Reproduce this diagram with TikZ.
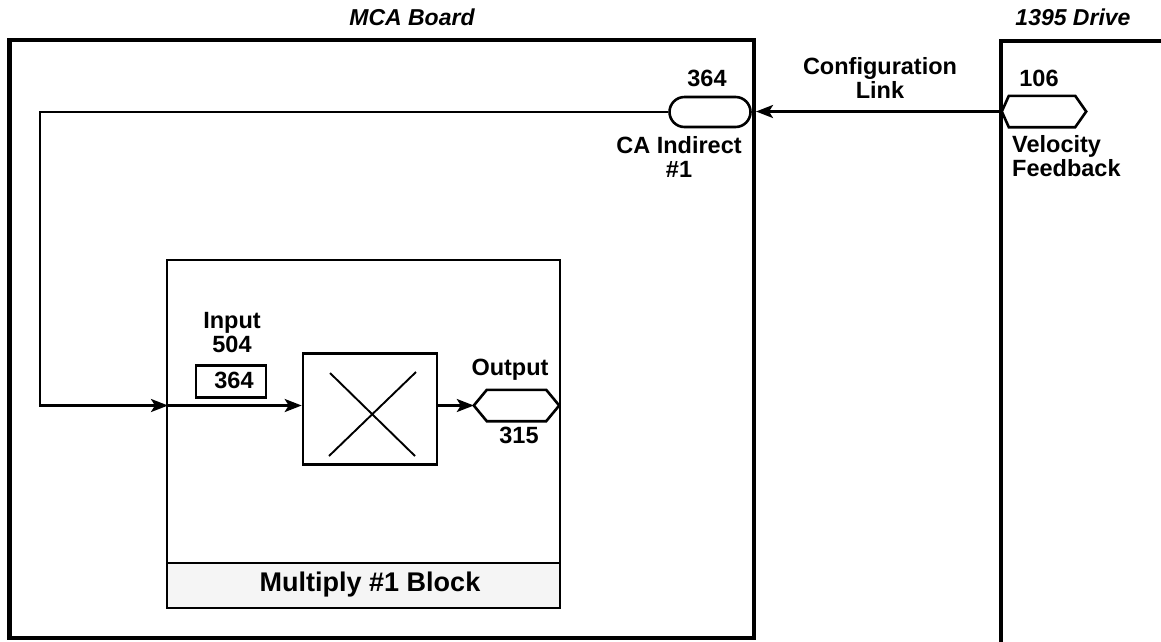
\documentclass[tikz,border=0pt]{standalone}
\usepackage{fontspec}
\setmainfont{Liberation Sans}
\usetikzlibrary{arrows.meta,calc,shapes.misc}

\tikzset{
  frame/.style={line width=4.5pt},
  wire/.style={line width=2.6pt},
  flow/.style={wire,-{Stealth[length=17pt,width=13pt,inset=4pt]}},
  lbl/.style={font=\fontsize{23.5}{24}\selectfont\bfseries,inner sep=0pt,align=center},
  title/.style={font=\fontsize{23}{24}\selectfont\bfseries\itshape,inner sep=0pt},
  hexbox/.style={draw=none,inner sep=0pt,minimum height=31pt},
  hexline/.style={wire,line join=miter},
}

\begin{document}
\begin{tikzpicture}[x=1pt,y=-1pt]
\useasboundingbox (0,0) rectangle (1161,641);

% titles
\node[title] (mcaT) at (412,17) {MCA Board};
\node[title] (drvT) at (1073,17) {1395 Drive};

% MCA board frame
\draw[frame] (9.5,40) rectangle (754,638);
% drive frame (open to the right and bottom)
\draw[frame] (1165,41) -- (1001,41) -- (1001,645);

% multiply block
\draw[wire,fill=gray!8] (167,563) rectangle (560,608);
\draw[wire] (167,260) rectangle (560,608);
\node[font=\fontsize{27}{28}\selectfont\bfseries,inner sep=0pt] (blk) at (370,585) {Multiply \#1 Block};

% CA indirect parameter
\node[draw,wire,rounded rectangle,minimum width=81pt,minimum height=30pt,inner sep=0pt] (ca) at (710,112) {};
\node[lbl] (ca364) at (707,78) {364};
\node[lbl] (caL) at (679,157) {CA Indirect\\\#1};

% velocity feedback source in the drive
\node[hexbox,minimum width=84pt] (vf) at (1044,111.5) {};
\draw[hexline] (vf.west) -- ($(vf.north west)+(7,0)$) -- ($(vf.north east)+(-11,0)$)
  -- (vf.east) -- ($(vf.south east)+(-11,0)$) -- ($(vf.south west)+(7,0)$) -- cycle;
\node[lbl] (v106) at (1039,78) {106};
\node[lbl,anchor=west,align=left] (vfL) at (1012,156) {Velocity\\Feedback};

% configuration link
\coordinate (mcaR) at (756,111.5);
\draw[flow] (vf.west) -- (mcaR);
\node[lbl] (cfg) at (880,78) {Configuration\\Link};

% multiplier
\node[draw,wire,minimum width=134pt,minimum height=111pt,inner sep=0pt] (mul) at (370,409) {};
\draw[line width=1.9pt] (330,373) -- (415,456);
\draw[line width=1.9pt] (416,372) -- (329,456);

% input 504
\node[draw,wire,minimum width=70pt,minimum height=32pt,inner sep=0pt] (inbox) at (231,381.5) {};
\node[lbl] (in364) at (234,380.5) {364};
\node[lbl] (inL) at (232,333) {Input\\504};

% output 315
\node[hexbox,minimum width=85pt] (out) at (516.5,405.5) {};
\draw[hexline] (out.west) -- ($(out.north west)+(13,0)$) -- ($(out.north east)+(-13,0)$)
  -- (out.east) -- ($(out.south east)+(-13,0)$) -- ($(out.south west)+(13,0)$) -- cycle;
\node[lbl] (outL) at (510,370) {Output};
\node[lbl] (o315) at (519,435) {315};

% feedback path into the multiply block
\coordinate (fbTop) at (40,112);
\coordinate (fbBot) at (40,405.5);
\coordinate (blkIn) at (168,405.5);
\draw[flow] (ca.west) -- (fbTop) -- (fbBot) -- (blkIn);
\draw[flow] (blkIn) -- (blkIn -| mul.west);
\draw[flow] (mul.east |- out.west) -- (out.west);
\end{tikzpicture}
\end{document}
